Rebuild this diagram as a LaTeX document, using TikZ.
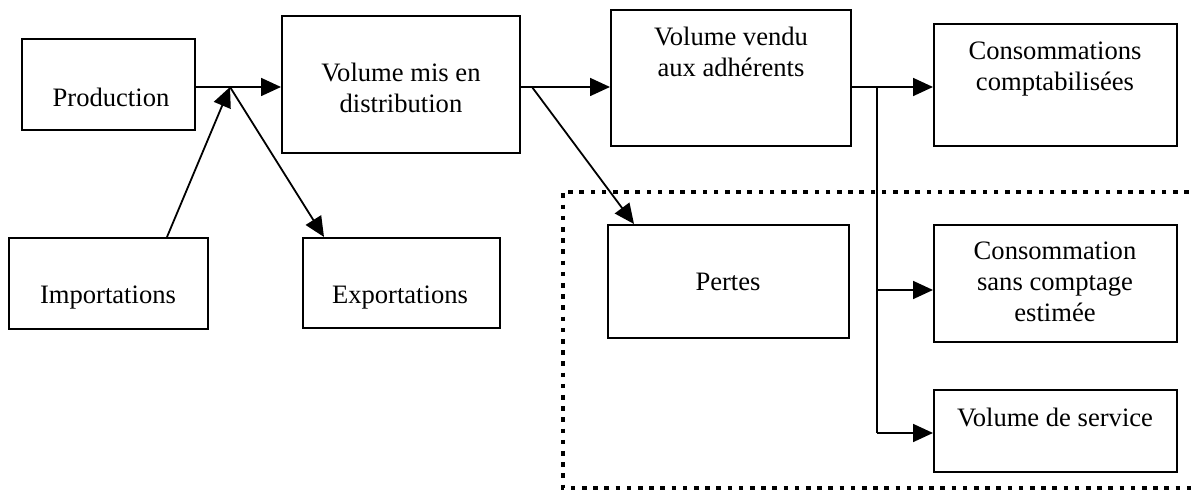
\documentclass[tikz,border=0pt]{standalone}
\usepackage{fontspec}
\setmainfont{Liberation Serif}
\usetikzlibrary{arrows.meta,calc}
\begin{document}
\begin{tikzpicture}[x=0.5pt,y=-0.5pt,
  box/.style={draw, line width=1pt, inner sep=0pt},
  txt/.style={font=\fontsize{13.3}{15.5}\selectfont, align=center, inner sep=0pt},
  conn/.style={line width=0.9pt},
  arr/.style={line width=0.9pt, -{Triangle[length=10pt,width=9pt]}},
  dotbox/.style={line width=2.3pt, dash pattern=on 2.3pt off 3.3pt}]
\useasboundingbox (0,0) rectangle (1191,490);
% boxes
\node[box, minimum width=86.5pt, minimum height=45.5pt] (prod) at (108.5,84.5) {};
\node[box, minimum width=99.5pt, minimum height=45.5pt] (imp) at (108.5,283.5) {};
\node[box, minimum width=98.5pt, minimum height=45pt] (exp) at (401.5,283) {};
\node[box, minimum width=119pt, minimum height=68.5pt] (vmis) at (401,84.5) {};
\node[box, minimum width=120pt, minimum height=68pt] (vvendu) at (731,78) {};
\node[box, minimum width=121.5pt, minimum height=61pt] (conso) at (1055.5,85) {};
\node[box, minimum width=120.5pt, minimum height=56.5pt] (pertes) at (728.5,281.5) {};
\node[box, minimum width=121.5pt, minimum height=58.5pt] (csc) at (1055.5,283.5) {};
\node[box, minimum width=121.5pt, minimum height=41pt] (vserv) at (1055.5,431) {};
% texts
\node[txt] (prodT) at (111,97) {Production};
\node[txt] (impT) at (108,298) {Importations};
\node[txt] (expT) at (400,298) {Exportations};
\node[txt] (vmisT) at (401,88) {Volume mis en\\distribution};
\node[txt] (vvendT) at (731,52) {Volume vendu\\aux adhérents};
\node[txt] (consoT) at (1055,69) {Consommations\\comptabilisées};
\node[txt] (pertesT) at (728,282) {Pertes};
\node[txt] (cscT) at (1055,282) {Consommation\\sans comptage\\estimée};
\node[txt] (vservT) at (1055,417) {Volume de service};
% junctions
\coordinate (j1) at (230,87);
\coordinate (j2) at (532,87);
\coordinate (j3) at (877,87);
\coordinate (j4) at (877,433);
% connectors
\draw[conn] (prod.east |- j1) -- (j1);
\draw[arr] (j1) -- (vmis.west |- j1);
\draw[arr] ($(imp.north)+(58.5,0)$) -- (j1);
\draw[arr] (j1) -- ($(exp.north west)+(22,0)$);
\draw[conn] (vmis.east |- j2) -- (j2);
\draw[arr] (j2) -- (vvendu.west |- j2);
\draw[arr] (j2) -- ($(pertes.north west)+(27,0)$);
\draw[conn] (vvendu.east |- j3) -- (j3);
\draw[arr] (j3) -- (conso.west |- j3);
\draw[conn] (j3) -- (j4);
\draw[arr] ($(j3 |- csc.west)+(0,6.5)$) -- ($(csc.west)+(0,6.5)$);
\draw[arr] (j4) -- (vserv.west |- j4);
% dotted region
\begin{scope}
\clip (0,0) rectangle (1191,490);
\draw[dotbox] (1200,192) -- (563,192) -- (563,488) -- (1200,488);
\end{scope}
\end{tikzpicture}
\end{document}
